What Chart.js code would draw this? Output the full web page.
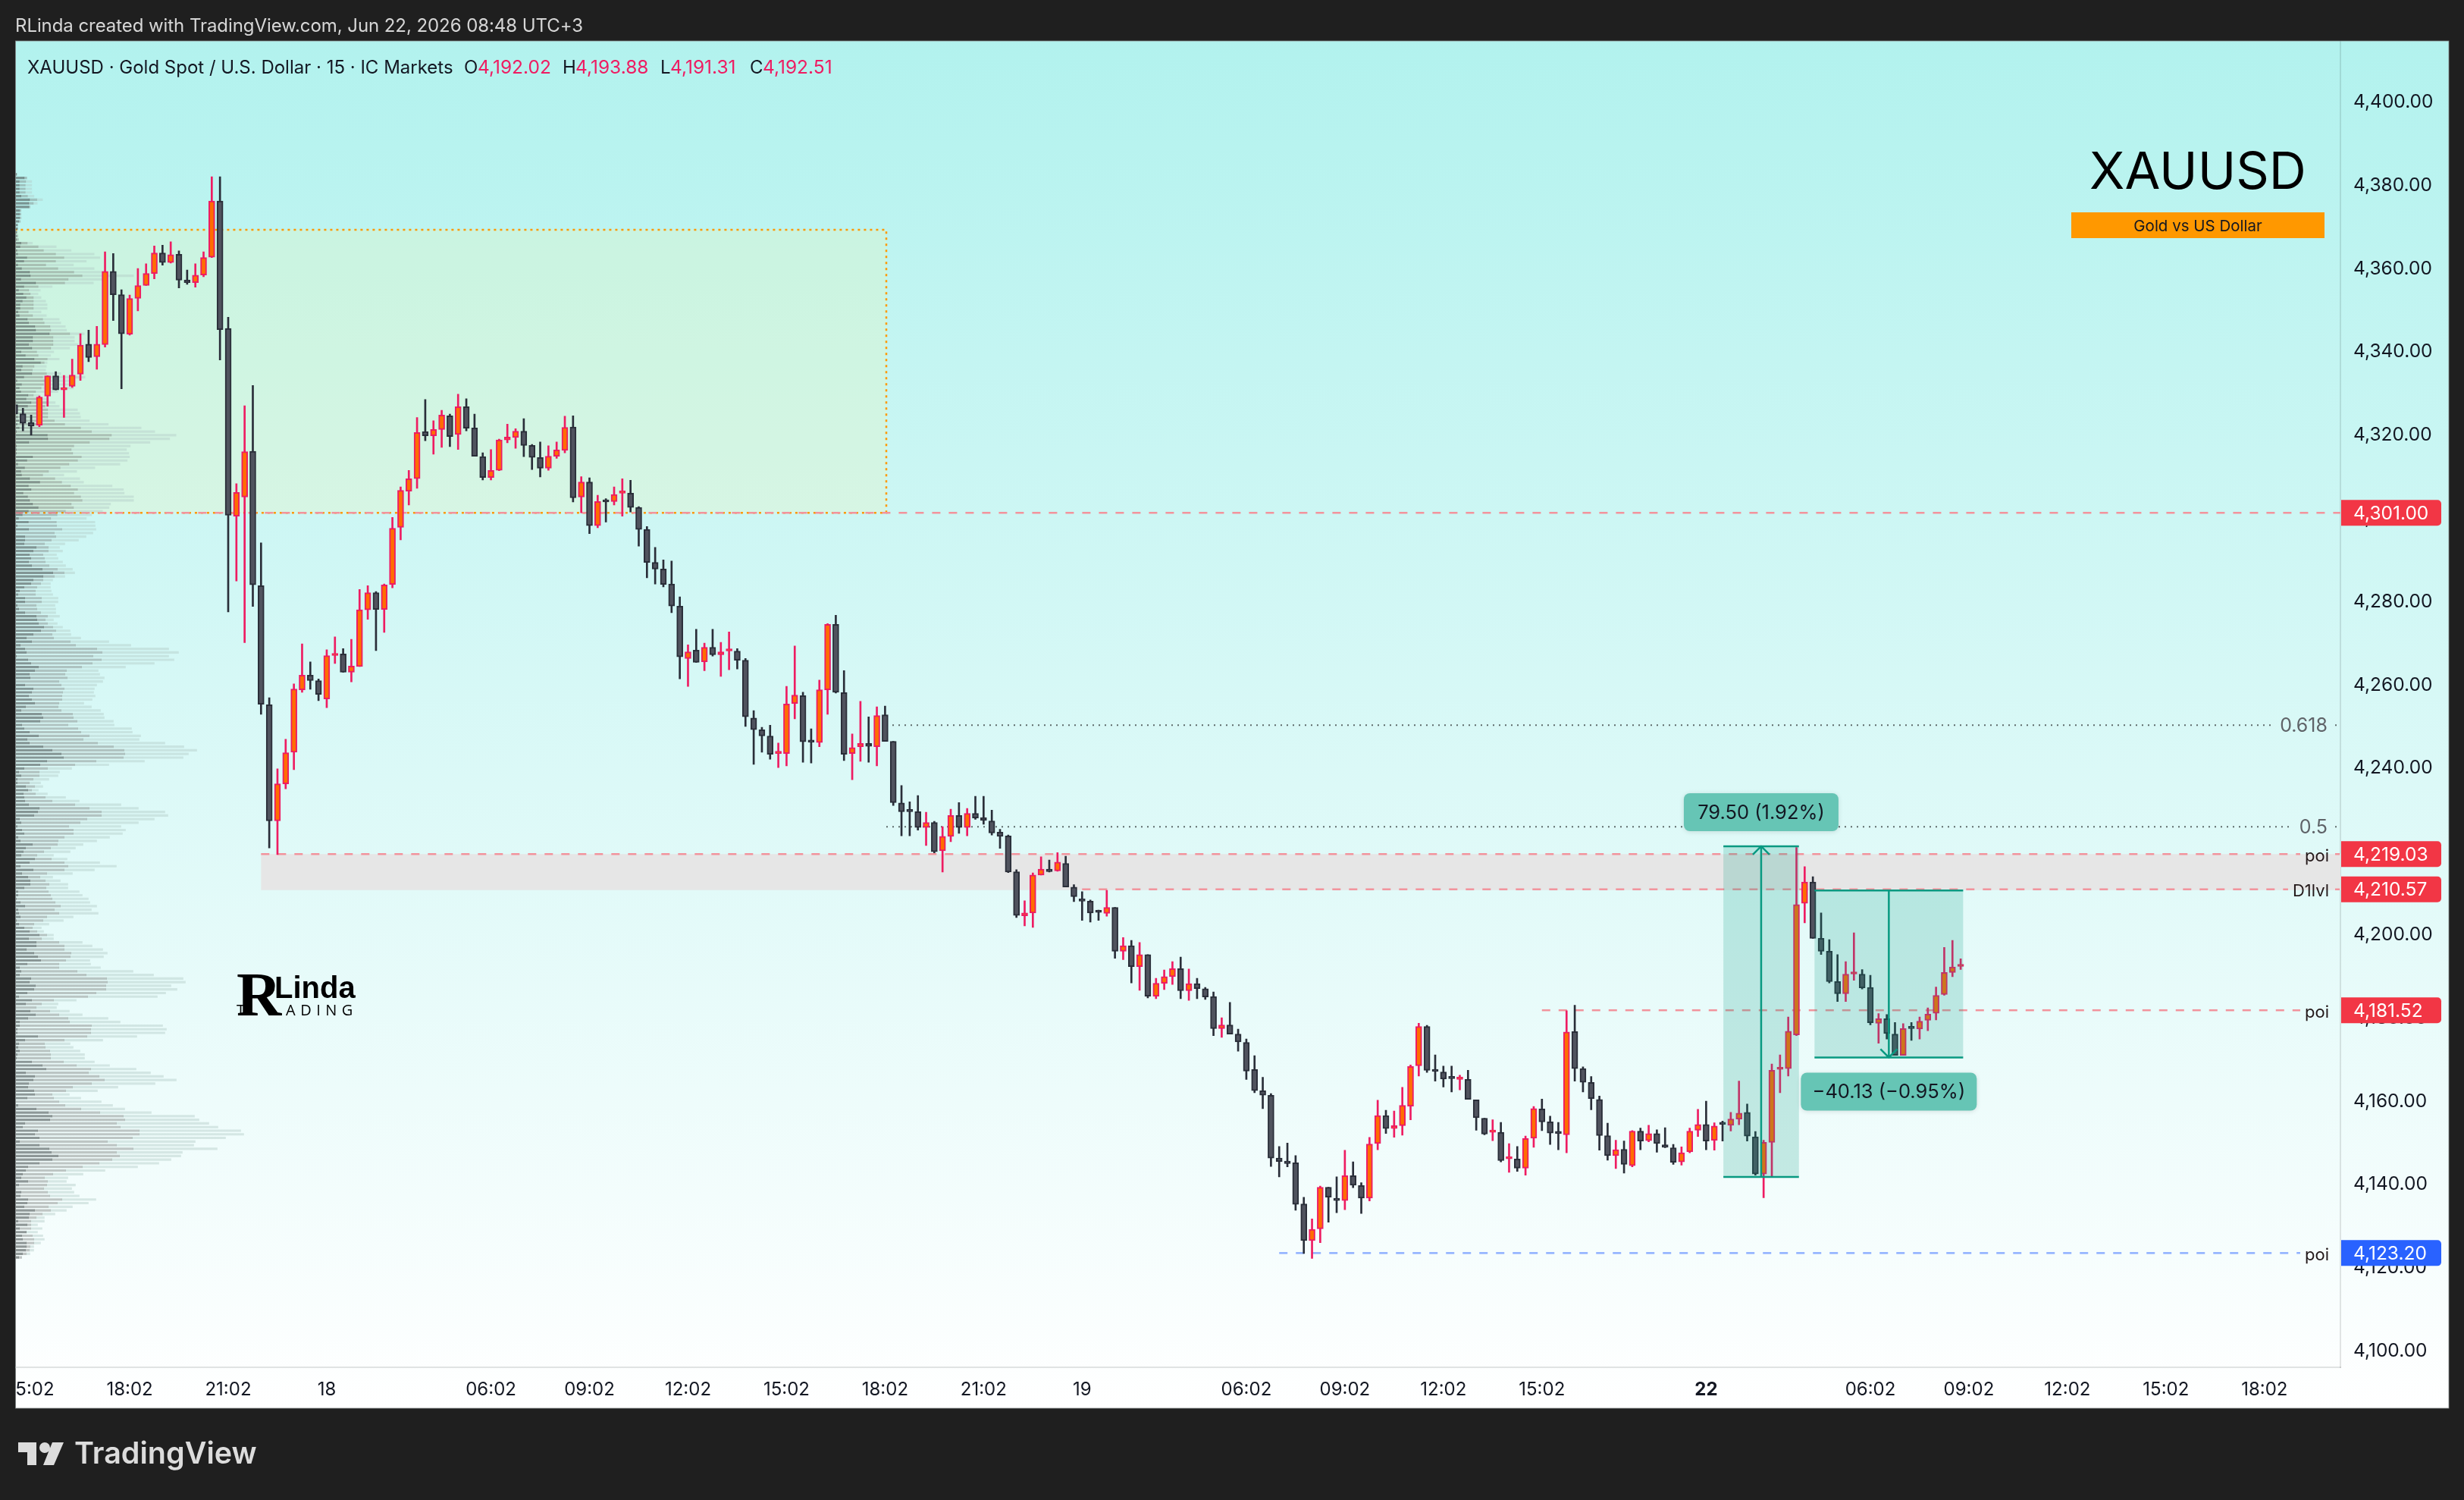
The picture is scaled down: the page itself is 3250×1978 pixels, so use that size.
<!DOCTYPE html>
<html lang="en">
<head>
<meta charset="utf-8">
<title>XAUUSD</title>
<style>
  html, body { margin: 0; padding: 0; background: #1f1f1f; }
  canvas { display: block; }
</style>
<script src="https://cdn.jsdelivr.net/npm/chart.js@4"></script>
</head>
<body>
<canvas id="chart" width="3250" height="1978"></canvas>
<script>
const opens = [
  4327.0,4324.8,4322.7,4322.0,4329.0,4333.9,4330.5,4331.4,4334.3,4341.5,
  4338.5,4341.4,4359.0,4353.4,4343.9,4352.5,4355.6,4358.5,4363.4,4361.1,
  4363.1,4356.9,4356.3,4358.1,4362.4,4375.9,4345.3,4300.2,4304.8,4315.8,
  4283.5,4254.9,4227.0,4235.9,4243.5,4258.5,4262.0,4260.7,4256.3,4266.7,
  4267.1,4262.7,4264.1,4277.7,4281.8,4277.8,4283.8,4297.5,4306.2,4309.2,
  4320.5,4319.5,4321.0,4324.3,4319.8,4326.5,4321.4,4314.5,4309.5,4311.2,
  4318.5,4319.1,4320.6,4317.2,4314.3,4311.7,4314.6,4316.0,4321.6,4304.8,
  4308.4,4297.9,4303.9,4303.7,4305.7,4305.7,4302.3,4297.0,4289.1,4287.5,
  4283.9,4278.6,4266.0,4268.0,4265.2,4268.7,4266.9,4267.8,4267.8,4265.6,
  4251.7,4248.9,4247.4,4243.2,4243.2,4255.2,4257.1,4246.1,4245.8,4258.5,
  4274.2,4257.8,4243.2,4244.8,4245.6,4244.8,4252.5,4246.1,4231.3,4229.4,
  4229.2,4225.4,4226.6,4219.8,4223.3,4228.3,4225.4,4228.8,4227.8,4227.0,
  4224.3,4223.4,4214.8,4204.2,4204.9,4214.0,4215.4,4215.0,4216.8,4211.1,
  4207.9,4207.7,4205.2,4204.8,4206.2,4195.7,4197.0,4192.0,4194.9,4184.9,
  4188.0,4189.6,4191.5,4186.2,4187.9,4186.7,4184.8,4177.1,4178.0,4175.8,
  4173.8,4167.3,4162.2,4161.1,4146.0,4145.3,4144.9,4135.0,4126.2,4129.0,
  4139.0,4136.3,4135.8,4141.8,4139.4,4136.4,4149.5,4156.2,4153.1,4153.8,
  4158.5,4168.2,4177.6,4167.1,4166.7,4165.3,4164.9,4164.9,4160.0,4155.6,
  4152.2,4152.2,4145.8,4145.8,4143.6,4150.8,4157.8,4154.7,4152.2,4151.6,
  4176.4,4167.5,4164.2,4160.1,4151.4,4146.6,4148.1,4144.2,4152.5,4150.2,
  4151.9,4149.2,4148.5,4145.1,4147.5,4152.7,4154.1,4150.3,4154.3,4153.9,
  4155.4,4157.0,4151.1,4142.2,4149.8,4167.3,4167.5,4175.6,4207.2,4212.3,
  4198.8,4195.7,4188.4,4185.5,4190.2,4190.2,4187.0,4178.4,4179.5,4175.8,
  4170.7,4177.3,4177.0,4179.1,4180.8,4185.3,4190.6,4192.02
];
const closes = [
  4324.8,4322.5,4321.8,4328.8,4333.9,4330.5,4331.1,4334.1,4341.3,4338.3,
  4341.5,4359.0,4353.4,4344.0,4352.5,4355.6,4358.5,4363.4,4361.1,4363.0,
  4356.9,4356.3,4358.1,4362.3,4375.9,4345.0,4300.4,4305.9,4315.7,4283.7,
  4255.0,4227.0,4235.9,4243.4,4258.7,4262.0,4260.7,4257.4,4266.7,4267.1,
  4262.7,4264.2,4277.7,4281.8,4277.8,4283.7,4297.3,4306.4,4309.2,4320.3,
  4319.5,4321.0,4324.5,4319.3,4326.5,4321.3,4314.6,4309.5,4311.2,4318.5,
  4319.2,4320.6,4317.2,4314.3,4311.7,4314.6,4316.1,4321.5,4304.6,4308.4,
  4297.9,4303.7,4303.6,4305.4,4305.9,4302.3,4297.0,4289.1,4287.5,4283.8,
  4278.6,4266.4,4267.6,4265.1,4268.7,4266.9,4267.6,4268.0,4265.6,4252.0,
  4248.9,4247.4,4243.0,4243.4,4255.1,4257.2,4246.0,4245.9,4258.5,4274.2,
  4257.9,4243.0,4244.6,4245.6,4244.9,4252.3,4246.1,4231.4,4229.2,4229.2,
  4225.4,4226.6,4219.6,4223.3,4228.3,4225.4,4228.8,4227.7,4227.1,4224.1,
  4223.3,4214.7,4204.3,4204.9,4214.0,4215.4,4214.8,4217.1,4211.1,4208.8,
  4207.7,4204.9,4205.0,4206.2,4195.7,4197.0,4192.0,4194.9,4184.9,4188.0,
  4189.6,4191.5,4186.2,4187.9,4186.7,4184.7,4177.1,4178.0,4175.8,4173.9,
  4166.9,4162.2,4161.1,4146.0,4145.2,4144.7,4134.9,4126.2,4128.9,4139.0,
  4136.6,4135.8,4141.8,4139.5,4136.4,4149.4,4156.2,4153.1,4153.8,4158.7,
  4168.0,4177.6,4167.1,4166.8,4165.0,4165.1,4165.2,4160.1,4155.7,4151.8,
  4152.3,4145.4,4146.0,4143.6,4150.7,4157.9,4154.7,4152.0,4151.9,4176.3,
  4167.5,4164.2,4160.3,4151.4,4146.6,4148.0,4144.5,4152.5,4150.1,4151.9,
  4149.5,4148.6,4145.0,4147.3,4152.5,4154.1,4150.1,4153.7,4154.1,4155.4,
  4156.8,4151.3,4142.2,4149.8,4167.1,4167.5,4176.5,4206.9,4212.3,4198.8,
  4195.7,4188.4,4185.5,4190.2,4190.5,4186.9,4178.5,4179.5,4175.9,4170.7,
  4177.1,4177.1,4178.9,4180.6,4185.1,4190.6,4191.9,4192.51
];
const highs = [
  4327.9,4326.1,4324.5,4329.1,4333.9,4334.9,4334.0,4337.9,4344.0,4344.9,
  4345.8,4363.7,4363.3,4354.6,4353.3,4359.7,4360.8,4365.1,4365.3,4366.1,
  4363.9,4359.3,4360.8,4363.7,4381.7,4381.7,4348.0,4308.0,4326.7,4331.6,
  4293.8,4256.6,4239.5,4246.6,4259.9,4269.5,4265.2,4261.1,4268.1,4271.2,
  4268.4,4270.6,4282.6,4283.5,4282.1,4283.9,4299.9,4307.2,4311.2,4323.9,
  4328.2,4323.1,4325.6,4324.7,4329.5,4328.4,4324.7,4315.4,4316.2,4318.7,
  4322.3,4321.2,4323.6,4317.4,4318.0,4317.1,4318.0,4324.2,4324.3,4309.7,
  4309.4,4305.2,4304.4,4307.2,4309.2,4308.8,4302.5,4297.7,4292.7,4289.7,
  4289.4,4280.8,4269.3,4273.0,4269.7,4273.0,4269.9,4272.4,4268.4,4266.0,
  4253.5,4249.5,4250.0,4245.7,4259.3,4269.0,4257.9,4249.1,4260.8,4274.4,
  4276.4,4263.1,4247.9,4255.7,4252.0,4254.4,4254.6,4246.1,4235.5,4231.6,
  4233.1,4229.1,4226.9,4225.6,4229.8,4231.4,4230.0,4232.9,4232.9,4229.6,
  4225.0,4223.6,4215.3,4207.8,4214.5,4218.4,4217.6,4219.4,4218.5,4211.7,
  4210.0,4208.0,4205.6,4210.3,4206.2,4199.0,4198.3,4197.8,4194.9,4189.2,
  4191.2,4193.2,4194.3,4191.4,4189.2,4187.0,4185.9,4179.7,4183.4,4177.0,
  4174.6,4170.6,4165.4,4161.5,4148.8,4149.6,4146.6,4136.6,4131.4,4139.3,
  4139.0,4141.5,4147.9,4145.1,4140.1,4151.0,4159.9,4157.5,4157.3,4163.0,
  4168.4,4178.4,4177.9,4170.8,4168.1,4168.1,4165.9,4167.1,4160.0,4155.6,
  4155.2,4154.6,4149.5,4148.8,4151.3,4158.4,4160.2,4156.1,4154.6,4181.4,
  4182.7,4167.9,4165.6,4160.9,4154.4,4150.3,4150.1,4152.6,4153.2,4153.9,
  4152.8,4153.3,4149.3,4148.7,4153.2,4157.7,4159.7,4154.5,4154.9,4157.0,
  4164.5,4159.0,4152.4,4150.3,4168.6,4170.8,4179.9,4220.6,4216.0,4213.6,
  4204.9,4198.5,4194.9,4193.2,4200.1,4191.3,4189.9,4180.7,4180.5,4178.6,
  4178.3,4178.6,4179.9,4182.1,4187.1,4196.6,4198.3,4193.88
];
const lows = [
  4324.6,4320.7,4319.7,4321.7,4326.6,4330.5,4323.9,4331.1,4332.8,4337.3,
  4335.5,4340.8,4347.2,4330.8,4343.7,4349.5,4355.6,4357.2,4360.5,4361.0,
  4355.0,4355.9,4355.2,4357.7,4362.3,4337.7,4277.2,4284.6,4269.8,4278.5,
  4252.6,4220.5,4218.9,4234.7,4239.3,4257.9,4258.6,4255.9,4254.2,4264.8,
  4262.7,4260.4,4264.1,4275.4,4267.9,4272.3,4283.0,4294.5,4302.9,4306.9,
  4318.3,4315.1,4316.7,4316.9,4316.2,4320.7,4314.6,4308.9,4308.9,4311.1,
  4317.8,4316.5,4314.5,4311.4,4309.6,4311.2,4314.1,4315.4,4303.6,4301.0,
  4296.0,4297.4,4298.8,4302.9,4300.2,4301.2,4293.0,4285.4,4283.9,4283.2,
  4277.0,4261.1,4259.3,4265.1,4263.1,4266.6,4261.7,4263.3,4263.5,4249.7,
  4240.6,4243.5,4241.8,4239.8,4240.2,4251.5,4241.1,4240.9,4244.8,4252.6,
  4257.7,4241.5,4236.9,4241.3,4241.1,4240.2,4246.1,4230.7,4223.4,4223.4,
  4224.8,4221.1,4219.3,4214.7,4222.0,4224.0,4223.4,4227.4,4226.2,4223.6,
  4220.4,4214.6,4203.8,4201.8,4201.4,4214.0,4214.7,4214.9,4211.1,4207.6,
  4203.1,4202.7,4203.1,4204.1,4194.0,4193.7,4188.1,4186.3,4184.5,4184.3,
  4186.5,4187.7,4184.3,4183.9,4184.3,4184.1,4175.4,4175.0,4175.8,4171.7,
  4164.9,4161.7,4157.9,4144.0,4141.5,4143.9,4133.5,4123.1,4121.9,4125.7,
  4130.6,4132.9,4133.6,4138.9,4132.7,4135.7,4148.0,4151.9,4151.0,4151.5,
  4155.2,4165.7,4166.6,4164.5,4163.1,4161.9,4162.4,4160.1,4152.7,4151.6,
  4150.2,4145.1,4142.6,4142.8,4141.9,4148.6,4152.6,4149.3,4148.0,4147.3,
  4164.5,4161.9,4157.6,4147.9,4145.5,4143.5,4142.4,4143.9,4148.0,4149.9,
  4147.4,4148.5,4144.5,4144.3,4147.3,4151.2,4148.0,4147.9,4150.1,4152.5,
  4154.0,4150.1,4141.9,4136.5,4141.5,4161.7,4165.7,4175.4,4202.5,4198.8,
  4194.9,4188.1,4183.6,4183.6,4188.7,4186.6,4178.0,4173.6,4174.6,4170.7,
  4170.7,4174.3,4174.6,4176.6,4179.2,4185.1,4189.6,4191.31
];

// volume profile, one row per price bin, cumulative end of each of the 3 tiers
const vpDark = [
  3,34,14,14,14,14,21,55,52,52,15,15,15,12,6,6,3,3,3,21,
  17,5,8,44,32,8,23,55,58,20,79,32,11,29,41,26,17,17,9,14,
  46,51,76,79,133,67,67,51,64,21,38,73,98,26,21,64,32,5,23,14,
  20,49,41,61,47,5,5,8,12,6,14,3,125,127,52,3,3,3,67,44,
  8,35,20,23,55,95,50,61,29,47,55,67,89,50,26,11,50,
  6,51,0,36,36,33,81,69,54,60,51,63,105,147,108,69,60,33,15,9,
  36,36,6,12,36,81,84,90,111,99,69,42,63,18,36,42,3,48,60,90,
  75,54,57,0,36,69,63,51,63,75,39,21,102,108,96,24,33,54,90,45,
  54,108,144,180,189,123,96,
  33,12,21,6,6,39,48,30,33,36,51,93,87,72,15,21,6,24,33,9,
  18,66,39,30,21,75,54,18,69,24,48,57,57,33,9,9,3,18,36,9,
  12,18,3,12,33,54,93,51,81,81,42,72,87,99,45,15,21,15,60,54,
  78,72,45,12,63,39,0,57,78,48,15,15,6,6,87,36,12,9,15,6,
  3,63,105,120,39,75,69,51,48,72,75,45,0,9,81,129,144,135,36,27,
  87,75,93,15,93,132,141,168,144,93,48,39,27,21,48,12,0,21,18,48,
  45,33,75,54,51,9,45,15,42,24,27,42,42,39,27,12
];
const vpMid = [
  5,44,40,38,38,38,47,84,70,57,21,21,20,18,9,9,6,9,11,46,
  89,110,158,191,158,119,167,230,263,208,194,89,52,58,70,70,70,70,50,67,
  107,113,136,139,214,148,148,148,139,83,89,125,113,73,66,122,107,127,110,101,
  79,70,86,127,116,127,127,127,153,194,257,300,379,370,292,230,220,226,260,245,
  211,176,130,107,155,182,217,245,230,257,263,220,229,197,164,139,161,
  162,183,153,159,141,114,129,129,108,114,117,132,165,192,153,108,99,84,78,78,
  102,102,81,84,99,126,117,126,147,159,144,150,216,237,321,342,306,339,303,261,
  201,195,204,171,180,192,186,183,183,171,168,180,225,228,243,207,246,258,291,267,
  324,387,429,432,426,318,234,
  126,93,93,69,54,75,63,78,117,144,234,291,339,339,282,255,210,228,228,192,
  168,165,138,111,84,141,192,207,192,123,96,117,132,120,129,138,144,156,177,153,
  171,123,108,72,66,84,123,102,171,192,192,219,216,198,171,171,243,279,360,363,
  357,357,318,285,150,102,81,135,171,207,213,300,297,297,282,192,114,117,135,138,
  138,189,240,297,288,330,351,300,225,198,144,150,171,195,258,333,426,432,399,414,
  489,489,462,363,399,465,399,411,381,330,264,198,147,114,126,123,111,126,135,183,
  165,129,138,105,81,60,60,60,42,66,72,72,57,54,42,24
];
const vpLight = [
  5,44,64,64,64,64,73,107,86,57,21,21,23,20,9,9,6,9,11,67,
  161,220,311,334,280,229,311,352,467,360,308,145,98,89,101,119,125,125,101,122,
  173,179,197,202,272,233,233,246,214,151,139,173,125,122,119,179,275,229,229,229,
  168,95,130,157,173,245,254,257,292,367,497,551,635,610,532,454,439,448,451,442,
  413,314,242,191,254,269,382,427,430,467,467,376,370,344,301,280,314,
  315,318,306,279,249,195,174,186,162,168,186,198,225,234,195,147,138,138,141,147,
  168,168,156,159,159,174,150,165,186,216,219,258,369,456,606,645,606,627,549,435,
  327,333,351,345,321,312,309,315,303,270,300,336,348,351,387,390,459,462,495,489,
  591,666,717,684,663,510,369,
  222,174,168,132,99,108,90,126,198,252,417,486,591,603,549,486,417,435,423,372,
  321,267,237,216,150,204,333,399,312,225,147,177,207,207,252,264,288,294,321,300,
  327,228,189,132,102,111,150,150,264,303,345,363,348,294,297,336,465,546,663,672,
  615,639,594,561,240,168,162,213,264,366,414,582,597,591,480,345,216,228,255,273,
  273,312,372,477,534,585,636,552,405,324,213,258,339,384,432,537,708,726,765,801,
  891,903,831,711,705,798,660,654,615,567,483,354,267,207,201,237,222,231,252,318,
  288,225,201,156,114,114,87,105,87,108,114,99,72,72,57,24
];
const vpTopPrice = 4382.3;
const vpRowStep = 0.8701;

// axis ticks
const priceTicks = [4100,4120,4140,4160,4180,4200,4220,4240,4260,4280,4300,4320,4340,4360,4380,4400];
const timeTickBars = [2,14,26,38,58,70,82,94,106,118,130,150,162,174,186,206,226,238,250,262,274];
const timeTickLabels = ['15:02','18:02','21:02','18','06:02','09:02','12:02','15:02','18:02','21:02','19','06:02','09:02','12:02','15:02','22','06:02','09:02','12:02','15:02','18:02'];

// drawn objects, prices and bar numbers
const supplyZone = { bars: [0, 106.15], prices: [4369, 4301] };
const poiBand = { bars: [30, 283.3], prices: [4219.03, 4210.57] };
const longBox = { bars: [208.1, 217.3], prices: [4220.9, 4141.5], text: '79.50 (1.92%)' };
const shortBox = { bars: [219.2, 237.3], prices: [4210.3, 4170.17], text: '\u221240.13 (\u22120.95%)' };
const levelPrices = [4301, 4219.03, 4210.57, 4181.52, 4123.2];
const levelStartBars = [0, 30, 130, 186, 154];
const levelNames = ['', 'poi', 'D1lvl', 'poi', 'poi'];
const fibPrices = [4250, 4225.6];
const fibNames = ['0.618', '0.5'];
const fibStartBar = 106.15;

const bars = opens.map((o, i) => i);
const isUp = i => closes[i] >= opens[i];
const pink = '#ee1c62', orange = '#ff6d00', dark = '#2a2e39', darkFill = '#50535e';

function vpDataset(start, ends, colour) {
  return {
    type: 'bar', indexAxis: 'y', xAxisID: 'vp', yAxisID: 'y', order: 5,
    grouped: false, barThickness: 2.5, backgroundColor: colour,
    data: ends.map((e, k) => ({ x: [start ? start[k] : 0, e], y: vpTopPrice - k * vpRowStep }))
  };
}

function dashLine(ctx, x1, x2, y, dash, colour, width) {
  ctx.save();
  ctx.beginPath();
  ctx.setLineDash(dash);
  ctx.strokeStyle = colour;
  ctx.lineWidth = width;
  ctx.moveTo(x1, y);
  ctx.lineTo(x2, y);
  ctx.stroke();
  ctx.restore();
}

function text(ctx, str, x, y, font, colour, align, spacing) {
  ctx.save();
  ctx.font = font;
  ctx.fillStyle = colour;
  ctx.textAlign = align || 'left';
  ctx.textBaseline = 'middle';
  if (spacing) ctx.letterSpacing = spacing;
  ctx.fillText(str, x, y);
  ctx.restore();
}

const sans = 'Inter, "Noto Sans", sans-serif';

const backdrop = {
  id: 'backdrop',
  beforeDraw(chart) {
    const ctx = chart.ctx;
    ctx.save();
    ctx.fillStyle = '#1f1f1f';
    ctx.fillRect(0, 0, 3250, 1978);
    const g = ctx.createLinearGradient(0, 54, 0, 1857);
    g.addColorStop(0, '#b2f2ee');
    g.addColorStop(1, '#ffffff');
    ctx.fillStyle = g;
    ctx.fillRect(20.5, 54, 3209.5, 1803);
    ctx.restore();
  },
  beforeDatasetsDraw(chart) {
    const ctx = chart.ctx, x = chart.scales.x, y = chart.scales.y, area = chart.chartArea;
    ctx.save();
    ctx.beginPath();
    ctx.rect(area.left, area.top, area.width, area.height);
    ctx.clip();

    // supply zone
    let x1 = x.getPixelForValue(supplyZone.bars[0]), x2 = x.getPixelForValue(supplyZone.bars[1]);
    let y1 = y.getPixelForValue(supplyZone.prices[0]), y2 = y.getPixelForValue(supplyZone.prices[1]);
    ctx.fillStyle = 'rgba(255,245,165,0.2)';
    ctx.fillRect(x1, y1, x2 - x1, y2 - y1);
    ctx.strokeStyle = '#ff9800';
    ctx.lineWidth = 2.5;
    ctx.setLineDash([3, 5]);
    ctx.strokeRect(x1, y1, x2 - x1, y2 - y1);
    ctx.setLineDash([]);

    // grey band
    x1 = x.getPixelForValue(poiBand.bars[0]);
    x2 = area.right;
    y1 = y.getPixelForValue(poiBand.prices[0]);
    y2 = y.getPixelForValue(poiBand.prices[1]);
    ctx.fillStyle = '#e6e6e6';
    ctx.fillRect(x1, y1, x2 - x1, y2 - y1 + 1);

    // fib levels
    fibPrices.forEach((p, i) => {
      const py = y.getPixelForValue(p);
      ctx.font = '25px ' + sans;
      const left = 3070 - ctx.measureText(fibNames[i]).width;
      dashLine(ctx, x.getPixelForValue(fibStartBar), left - 8, py, [2, 6], '#5f6b6b', 2);
      dashLine(ctx, 3080, area.right, py, [2, 6], '#5f6b6b', 2);
      text(ctx, fibNames[i], 3070, py + 1, '25px ' + sans, '#5f6368', 'right');
    });

    // horizontal levels
    levelPrices.forEach((p, i) => {
      const py = y.getPixelForValue(p);
      const c = p === 4123.2 ? '#8fb0ff' : '#f2939c';
      const start = x.getPixelForValue(levelStartBars[i]);
      if (levelNames[i]) {
        ctx.font = '22px ' + sans;
        const left = 3072 - ctx.measureText(levelNames[i]).width;
        dashLine(ctx, start, left - 6, py, [11, 11], c, 2.5);
        if (i < 3) dashLine(ctx, 3080, area.right, py, [6, 4], c, 2.5);
      } else {
        dashLine(ctx, start, area.right, py, [11, 11], c, 2.5);
      }
    });
    ctx.restore();
  },
  afterDatasetsDraw(chart) {
    const ctx = chart.ctx, x = chart.scales.x, y = chart.scales.y;

    // level names sit on top of the band
    levelPrices.forEach((p, i) => {
      if (levelNames[i]) text(ctx, levelNames[i], 3072, y.getPixelForValue(p) + 3, '22px ' + sans, '#24191a', 'right');
    });

    // measure boxes, long points up and short points down
    [longBox, shortBox].forEach((b, n) => {
      const x1 = x.getPixelForValue(b.bars[0]), x2 = x.getPixelForValue(b.bars[1]);
      const y1 = y.getPixelForValue(b.prices[0]), y2 = y.getPixelForValue(b.prices[1]);
      const mid = (x1 + x2) / 2;
      ctx.save();
      ctx.fillStyle = 'rgba(8,153,129,0.2)';
      ctx.fillRect(x1, y1, x2 - x1, y2 - y1);
      ctx.strokeStyle = '#089981';
      ctx.lineWidth = 2.5;
      ctx.beginPath();
      ctx.moveTo(x1, y1); ctx.lineTo(x2, y1);
      ctx.moveTo(x1, y2); ctx.lineTo(x2, y2);
      ctx.moveTo(mid, y1); ctx.lineTo(mid, y2);
      const tip = n === 0 ? y1 : y2, dir = n === 0 ? 1 : -1;
      ctx.moveTo(mid - 11, tip + dir * 11); ctx.lineTo(mid, tip); ctx.lineTo(mid + 11, tip + dir * 11);
      ctx.stroke();

      const w = n === 0 ? 204 : 232, h = 50;
      const top = n === 0 ? y1 - 20 - h : y2 + 20;
      ctx.shadowColor = 'rgba(0,0,0,0.12)';
      ctx.shadowBlur = 6;
      ctx.shadowOffsetY = 1;
      ctx.fillStyle = '#66c5b5';
      ctx.beginPath();
      ctx.roundRect(mid - w / 2, top, w, h, 8);
      ctx.fill();
      ctx.restore();
      text(ctx, b.text, mid, top + h / 2 + 1, '25.5px ' + sans, '#131722', 'center');
    });
  },
  afterDraw(chart) {
    const ctx = chart.ctx, y = chart.scales.y;

    // cover whatever ran over the left edge of the time axis
    ctx.fillStyle = '#1f1f1f';
    ctx.fillRect(0, 1805, 20.5, 52);

    // thin frame round the panel
    ctx.strokeStyle = 'rgba(130,135,135,0.8)';
    ctx.lineWidth = 1;
    ctx.strokeRect(20.5, 54, 3209.5, 1803);

    // last value tags on the price axis
    levelPrices.forEach(p => {
      const py = y.getPixelForValue(p);
      ctx.fillStyle = p === 4123.2 ? '#2962ff' : '#f23645';
      ctx.beginPath();
      ctx.roundRect(3088, py - 17, 132, 34, [0, 5, 5, 0]);
      ctx.fill();
      text(ctx, p.toLocaleString('en-US', { minimumFractionDigits: 2 }), 3104, py + 1, '24.5px ' + sans, '#ffffff');
    });

    // header strip
    text(ctx, 'RLinda created with TradingView.com, Jun 22, 2026 08:48 UTC+3', 20, 35, '24px ' + sans, '#d6d6d6', 'left', '-0.07px');
    text(ctx, 'XAUUSD \u00b7 Gold Spot / U.S. Dollar \u00b7 15 \u00b7 IC Markets', 36, 90, '24px ' + sans, '#131722');
    const ohlc = [['O', 612, '4,192.02', 630], ['H', 742, '4,193.88', 759], ['L', 871, '4,191.31', 884], ['C', 989, '4,192.51', 1006]];
    ohlc.forEach(r => {
      text(ctx, r[0], r[1], 90, '24px ' + sans, '#131722');
      text(ctx, r[2], r[3], 90, '24.5px ' + sans, pink);
    });

    // big symbol tag
    text(ctx, 'XAUUSD', 2899, 229, '68px ' + sans, '#000000', 'center');
    ctx.fillStyle = '#ff9800';
    ctx.fillRect(2732, 280, 334, 34);
    text(ctx, 'Gold vs US Dollar', 2899, 299, '20.5px ' + sans, '#131722', 'center');

    // RLinda mark
    text(ctx, 'R', 312, 1318, 'bold 82px "Liberation Serif"', '#000000');
    text(ctx, 'Linda', 362, 1305, 'bold 40px "Liberation Sans"', '#000000');
    text(ctx, 'T', 312, 1333, '20px "Open Sans"', '#000000');
    text(ctx, 'ADING', 377, 1333, '20px "Open Sans"', '#000000', 'left', '6.5px');

    // TradingView logo
    ctx.fillStyle = '#dcdcdc';
    ctx.beginPath();
    ctx.moveTo(24, 1902); ctx.lineTo(48, 1902); ctx.lineTo(48, 1932); ctx.lineTo(36, 1932); ctx.lineTo(36, 1915); ctx.lineTo(24, 1915);
    ctx.closePath();
    ctx.moveTo(59 + 7, 1909);
    ctx.arc(59, 1909, 7, 0, Math.PI * 2);
    ctx.moveTo(69, 1902); ctx.lineTo(84, 1902); ctx.lineTo(71, 1932); ctx.lineTo(57, 1932);
    ctx.closePath();
    ctx.fill();
    text(ctx, 'TradingView', 98, 1918, '600 39.5px ' + sans, '#dcdcdc');
  }
};

new Chart(document.getElementById('chart').getContext('2d'), {
  type: 'bar',
  data: {
    datasets: [
      {
        order: 1, grouped: false, barThickness: 8, borderWidth: 2, borderSkipped: false, minBarLength: 3,
        backgroundColor: c => isUp(c.dataIndex) ? orange : darkFill,
        borderColor: c => isUp(c.dataIndex) ? pink : dark,
        data: bars.map(i => ({ x: i, y: [opens[i], closes[i]] }))
      },
      {
        order: 2, grouped: false, barThickness: 2,
        backgroundColor: c => isUp(c.dataIndex) ? pink : dark,
        data: bars.map(i => ({ x: i, y: [lows[i], highs[i]] }))
      },
      vpDataset(null, vpDark, 'rgba(80,88,88,0.62)'),
      vpDataset(vpDark, vpMid, 'rgba(118,122,120,0.42)'),
      vpDataset(vpMid, vpLight, 'rgba(180,205,200,0.45)')
    ]
  },
  options: {
    responsive: false,
    animation: false,
    devicePixelRatio: 1,
    layout: { padding: { left: 20.5, top: 54, right: 20, bottom: 121 } },
    plugins: { legend: { display: false }, tooltip: { enabled: false } },
    scales: {
      x: {
        type: 'linear', offset: false, min: 0.1, max: 283.25,
        grid: { display: false, offset: false },
        border: { display: true, color: '#e0e3e3', width: 2 },
        afterBuildTicks(s) { s.ticks = timeTickBars.map(v => ({ value: v })); },
        afterFit(s) { s.height = 54; },
        ticks: {
          autoSkip: false, maxRotation: 0, padding: 7, color: '#131722',
          font: c => ({ family: 'Inter', size: 24, weight: c.tick && c.tick.value === 206 ? 'bold' : 'normal' }),
          callback: v => timeTickLabels[timeTickBars.indexOf(v)]
        }
      },
      vp: { type: 'linear', axis: 'x', offset: false, display: false, min: 0, max: 9199.5 },
      y: {
        type: 'linear', position: 'right', offset: false, min: 4095.76, max: 4414.34,
        grid: { display: false, offset: false },
        border: { display: true, color: 'rgba(0,0,0,0.1)', width: 2 },
        afterBuildTicks(s) { s.ticks = priceTicks.map(v => ({ value: v })); },
        afterFit(s) { s.width = 143; },
        ticks: {
          padding: 9, labelOffset: 2, color: '#131722', font: { family: 'Inter', size: 24.5 },
          callback: v => v.toLocaleString('en-US', { minimumFractionDigits: 2 })
        }
      }
    }
  },
  plugins: [backdrop]
});
</script>
</body>
</html>
